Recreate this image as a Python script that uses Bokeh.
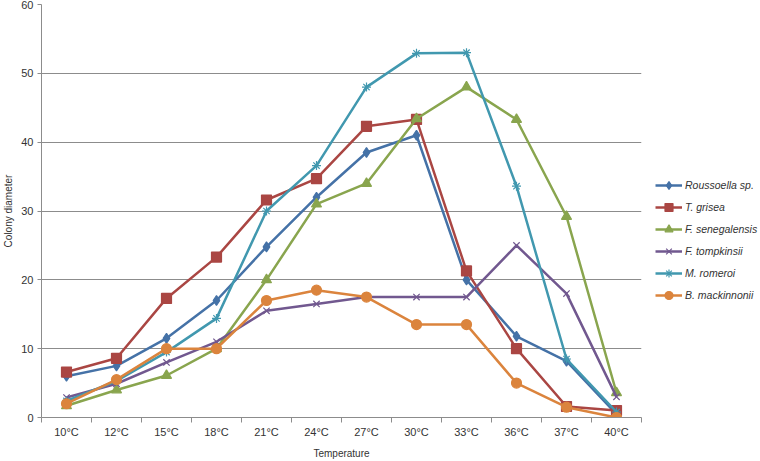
from bokeh.plotting import figure
from bokeh.layouts import row
from bokeh.models import FixedTicker, Legend, LegendItem, Range1d
from bokeh.embed import file_html
from bokeh.resources import INLINE

categories = ["10°C", "12°C", "15°C", "18°C", "21°C", "24°C", "27°C", "30°C", "33°C", "36°C", "37°C", "40°C"]
roussoella = [6.0, 7.5, 11.5, 17.0, 24.8, 32.0, 38.5, 41.0, 20.0, 11.8, 8.2, 0.5]
t_grisea = [6.6, 8.6, 17.3, 23.3, 31.6, 34.7, 42.3, 43.3, 21.3, 10.0, 1.6, 1.0]
f_senegalensis = [1.7, 4.0, 6.1, 10.0, 20.0, 31.0, 34.0, 43.4, 48.0, 43.3, 29.2, 3.6]
f_tompkinsii = [2.9, 4.9, 8.0, 11.0, 15.5, 16.5, 17.5, 17.5, 17.5, 25.0, 18.0, 3.0]
m_romeroi = [2.4, 5.3, 9.5, 14.4, 30.0, 36.6, 48.0, 52.9, 53.0, 33.6, 8.5, 0.8]
b_mackinnonii = [2.0, 5.5, 10.0, 10.0, 17.0, 18.5, 17.5, 13.5, 13.5, 5.0, 1.5, 0.0]

series_names = ["Roussoella sp.", "T. grisea", "F. senegalensis", "F. tompkinsii", "M. romeroi", "B. mackinnonii"]
series_values = [roussoella, t_grisea, f_senegalensis, f_tompkinsii, m_romeroi, b_mackinnonii]
colors = ["#4572A7", "#AA4643", "#89A54E", "#71588F", "#4198AF", "#DB843D"]
markers = ["diamond", "square", "triangle", "x", "asterisk", "circle"]
sizes = [10, 10, 10, 9, 9, 10]

x = [i + 0.5 for i in range(len(categories))]

H = 461
p = figure(width=644, height=H, output_backend="svg", toolbar_location=None,
           x_range=Range1d(0, len(categories)), y_range=Range1d(0, 60),
           min_border_left=33, min_border_top=4, min_border_bottom=30, min_border_right=3)
p.outline_line_color = None
p.background_fill_color = "white"
p.border_fill_color = "white"

# legend panel: its renderers use the same data, but its ranges keep them out of view
leg = figure(width=116, height=H, output_backend="svg", toolbar_location=None,
             x_range=Range1d(-100, -99), y_range=Range1d(-100, -99),
             min_border=0, min_border_top=4, min_border_bottom=30)
leg.axis.visible = False
leg.grid.visible = False
leg.outline_line_color = None

items = []
for name, vals, c, m, s in zip(series_names, series_values, colors, markers, sizes):
    p.line(x, vals, line_color=c, line_width=2.5)
    p.scatter(x, vals, marker=m, size=s, fill_color=c, line_color=c, line_width=1.2)
    l1 = leg.line(x, vals, line_color=c, line_width=2.5)
    l2 = leg.scatter(x, vals, marker=m, size=s, fill_color=c, line_color=c, line_width=1.2)
    items.append(LegendItem(label=name, renderers=[l1, l2], index=0))

p.xgrid.visible = False
p.ygrid.grid_line_color = "#8c8c8c"
p.ygrid.grid_line_width = 1
p.ygrid.ticker = FixedTicker(ticks=[10, 20, 30, 40, 50, 60])

p.xaxis.ticker = FixedTicker(ticks=x, minor_ticks=list(range(len(categories) + 1)))
p.xaxis.major_label_overrides = {xi: c for xi, c in zip(x, categories)}
p.xaxis.major_tick_line_color = None
p.xaxis.major_tick_in = 0
p.xaxis.major_tick_out = 0
p.xaxis.minor_tick_in = 0
p.xaxis.minor_tick_out = 5
p.xaxis.minor_tick_line_color = "#8c8c8c"
p.xaxis.axis_line_color = "#8c8c8c"
p.xaxis.axis_label = "Temperature"

p.yaxis.ticker = FixedTicker(ticks=[0, 10, 20, 30, 40, 50, 60])
p.yaxis.minor_tick_line_color = None
p.yaxis.major_tick_in = 0
p.yaxis.major_tick_out = 4
p.yaxis.major_tick_line_color = "#8c8c8c"
p.yaxis.axis_line_color = "#8c8c8c"
p.yaxis.axis_label = "Colony diameter"

for ax in (p.xaxis[0], p.yaxis[0]):
    ax.major_label_text_font = "Liberation Sans"
    ax.major_label_text_font_size = "11px"
    ax.major_label_text_color = "#333333"
    ax.axis_label_text_font = "Liberation Sans"
    ax.axis_label_text_font_size = "10px"
    ax.axis_label_text_font_style = "normal"
    ax.axis_label_text_color = "#333333"
p.xaxis.major_label_standoff = 3
p.xaxis.axis_label_standoff = 7
p.yaxis.major_label_standoff = 4
p.yaxis.axis_label_standoff = 4

legend = Legend(items=items, location=(11, 112), orientation="vertical",
                label_text_font="Liberation Sans", label_text_font_size="10.5px",
                label_text_font_style="italic", label_text_color="#333333",
                glyph_width=27, glyph_height=20, label_height=20, spacing=2,
                label_standoff=3, padding=0, margin=0,
                border_line_color=None, background_fill_alpha=0)
leg.add_layout(legend, "center")

layout = row(p, leg, spacing=0)
open("out.html", "w").write(file_html(layout, INLINE))
